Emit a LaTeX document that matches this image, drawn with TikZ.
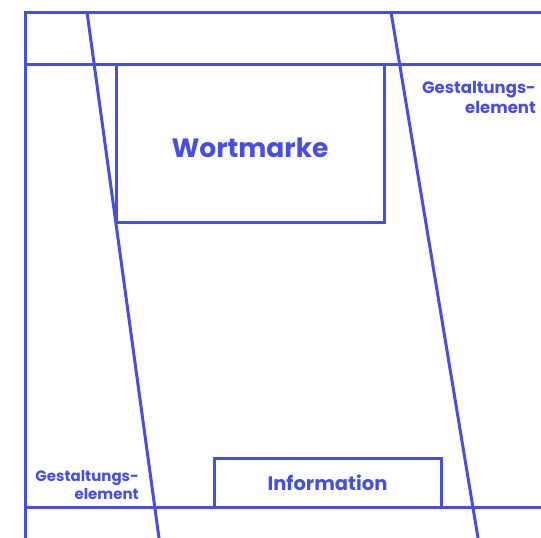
\documentclass[tikz,border=0pt]{standalone}
\usepackage{fontspec}
\setmainfont{Poppins}
\usepackage{tikz}
\definecolor{gridblue}{RGB}{70,78,228}

\begin{document}
\begin{tikzpicture}[
  x=1pt, y=-1pt,
  grid/.style={draw=gridblue, line width=3pt},
  field/.style={grid, inner sep=0pt, outer sep=0pt, text=gridblue,
                anchor=north west},
  note/.style={text=gridblue, align=right, inner sep=0pt}
]
\useasboundingbox (0,0) rectangle (541,538);

% Grid lines
\draw[grid] (541,12) -- (25,12) -- (25,538);
\draw[grid] (25,64) -- (541,64);
\draw[grid] (25,507) -- (541,507);
\draw[grid] (87,12) -- (159,538);
\draw[grid] (391,12) -- (478,538);

% Fields
\node[field, minimum width=268pt, minimum height=158pt] (wm) at (116,64) {};
\node[note, font=\bfseries\fontsize{26.5}{30}\selectfont]
      (wmtext) at ([yshift=-5pt]wm.center) {Wortmarke};
\node[field, minimum width=227pt, minimum height=49pt,
      font=\bfseries\fontsize{19.5}{22}\selectfont] (info) at (214,458)
      {Information};

% Labels
\node[note, anchor=east, font=\bfseries\fontsize{16.5}{20}\selectfont]
      (geright) at (536,97) {Gestaltungs-\\element};
\node[note, anchor=east, font=\bfseries\fontsize{15}{18}\selectfont]
      (geleft) at (139,485) {Gestaltungs-\\element};
\end{tikzpicture}
\end{document}
